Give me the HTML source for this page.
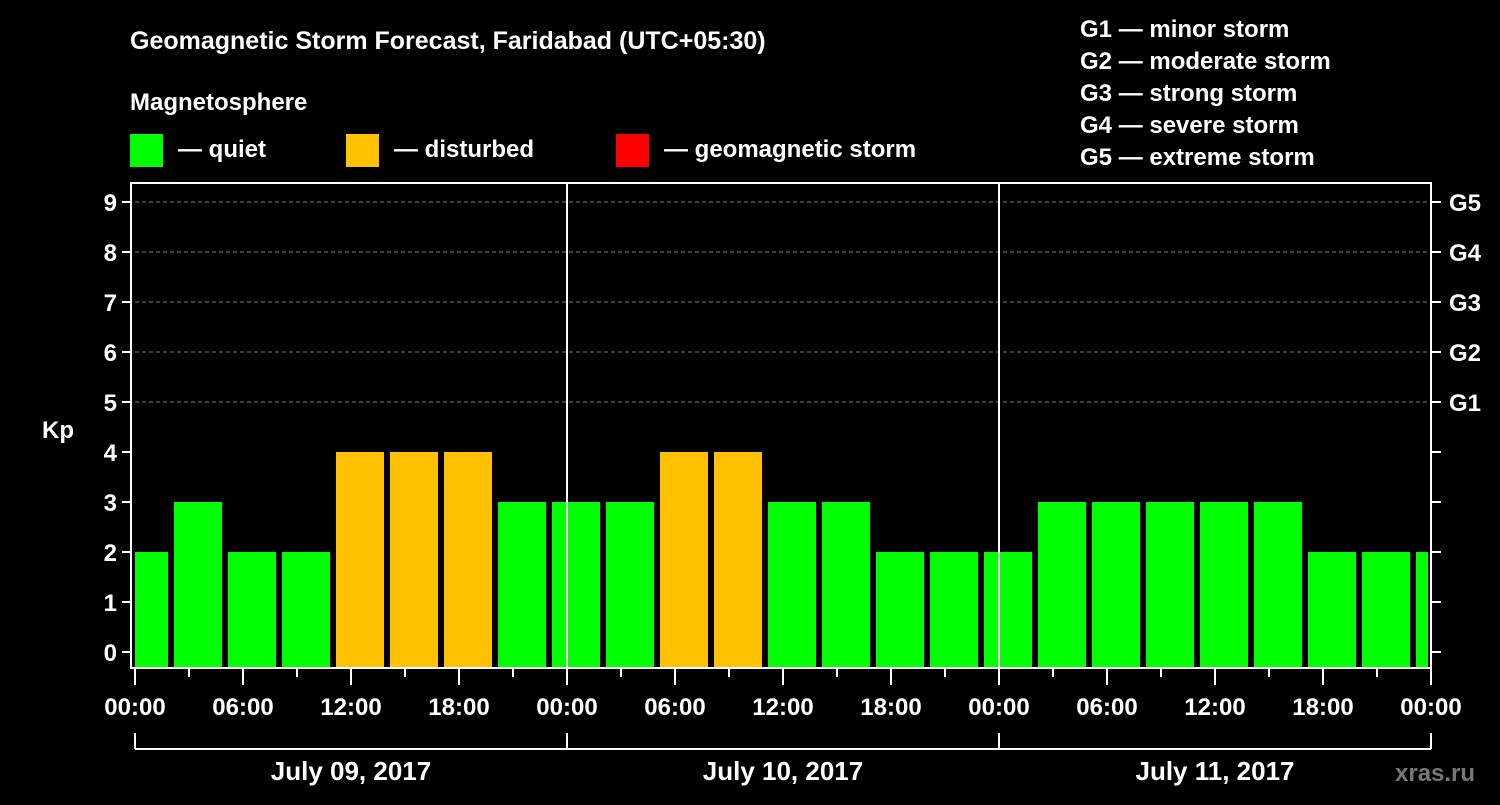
<!DOCTYPE html>
<html><head><meta charset="utf-8"><style>
body{margin:0;background:#000;width:1500px;height:800px;overflow:hidden;font-family:"Liberation Sans",sans-serif;}
svg text{font-family:"Liberation Sans",sans-serif;font-weight:bold;fill:#fff;}
</style></head><body>
<svg id="chart" width="1500" height="800" xmlns="http://www.w3.org/2000/svg">
<text x="130" y="49" font-size="25">Geomagnetic Storm Forecast, Faridabad (UTC+05:30)</text>
<text x="130" y="110" font-size="24">Magnetosphere</text>
<g><rect x="130" y="134" width="33" height="33" fill="#00ff00"/><text x="178" y="157" font-size="24">— quiet</text></g>
<g><rect x="346" y="134" width="33" height="33" fill="#ffc000"/><text x="394" y="157" font-size="24">— disturbed</text></g>
<g><rect x="616" y="134" width="33" height="33" fill="#ff0000"/><text x="664" y="157" font-size="24">— geomagnetic storm</text></g>
<g font-size="24">
<text x="1080" y="37">G1 — minor storm</text><text x="1080" y="69">G2 — moderate storm</text><text x="1080" y="101">G3 — strong storm</text><text x="1080" y="133">G4 — severe storm</text><text x="1080" y="165">G5 — extreme storm</text>
</g>
<text x="42" y="438" font-size="24">Kp</text>
<text x="1395" y="781" font-size="24" style="fill:#777">xras.ru</text>
<g id="plot"></g>
</svg>
<script>
const hours = [0.5,3.5,6.5,9.5,12.5,15.5,18.5,21.5,24.5,27.5,30.5,33.5,36.5,39.5,42.5,45.5,48.5,51.5,54.5,57.5,60.5,63.5,66.5,69.5,72.5];
const kpValues = [2,3,2,2,4,4,4,3,3,3,4,4,3,3,2,2,2,3,3,3,3,3,2,2,2];
const yTicks = [0,1,2,3,4,5,6,7,8,9];
const gLabels = ["G1","G2","G3","G4","G5"];
const xTickLabels = ["00:00","06:00","12:00","18:00","00:00","06:00","12:00","18:00","00:00","06:00","12:00","18:00","00:00"];
const dayLabels = ["July 09, 2017","July 10, 2017","July 11, 2017"];

const L=135,R=1431,T=183,B=668;
const x=h=>L+h*(R-L)/72;
const y=v=>652-v*50;
const ns="http://www.w3.org/2000/svg";
const g=document.getElementById('plot');
function mk(t,a){const e=document.createElementNS(ns,t);for(const k in a)e.setAttribute(k,a[k]);g.appendChild(e);return e;}
const clip=mk('clipPath',{id:'pc'});const cr=document.createElementNS(ns,'rect');
cr.setAttribute('x',L);cr.setAttribute('y',T);cr.setAttribute('width',R-3-L);cr.setAttribute('height',B-T);clip.appendChild(cr);
for(let v=5;v<=9;v++){const l=mk('line',{x1:L,x2:R,y1:y(v),y2:y(v),stroke:'#777','stroke-dasharray':'4,3'});
}
hours.forEach((h,i)=>{const v=kpValues[i];
const r=mk('rect',{x:x(h)-24,y:y(v),width:48,height:B-y(v),fill:v>=5?'#ff0000':(v>=4?'#ffc000':'#00ff00'),'clip-path':'url(#pc)'});
});
[24,48].forEach(h=>{const l=mk('line',{x1:x(h),x2:x(h),y1:T,y2:B,stroke:'#fff','stroke-width':2});
});
const f=mk('rect',{x:131,y:T,width:R-131,height:B-T,fill:'none',stroke:'#fff','stroke-width':2});

yTicks.forEach(v=>{mk('line',{x1:122,x2:131,y1:y(v),y2:y(v),stroke:'#fff','stroke-width':2});
mk('line',{x1:R,x2:R+10,y1:y(v),y2:y(v),stroke:'#fff','stroke-width':2});
const t=mk('text',{x:117,y:y(v)+9,'font-size':24,'text-anchor':'end'});t.textContent=v;
});
gLabels.forEach((s,i)=>{const t=mk('text',{x:1449,y:y(5+i)+9,'font-size':24});t.textContent=s;
});
for(let h=0;h<=72;h+=3){mk('line',{x1:x(h),x2:x(h),y1:B,y2:B+(h%6?9:17),stroke:'#fff','stroke-width':2});}
xTickLabels.forEach((s,i)=>{const t=mk('text',{x:x(i*6),y:715,'font-size':24,'text-anchor':'middle'});t.textContent=s;
});
mk('line',{x1:x(0),x2:x(72),y1:749,y2:749,stroke:'#fff','stroke-width':2});
[0,24,48,72].forEach(h=>mk('line',{x1:x(h),x2:x(h),y1:733,y2:749,stroke:'#fff','stroke-width':2}));
dayLabels.forEach((s,i)=>{const t=mk('text',{x:x(i*24+12),y:780,'font-size':26,'text-anchor':'middle'});t.textContent=s;
});
</script>
</body></html>
